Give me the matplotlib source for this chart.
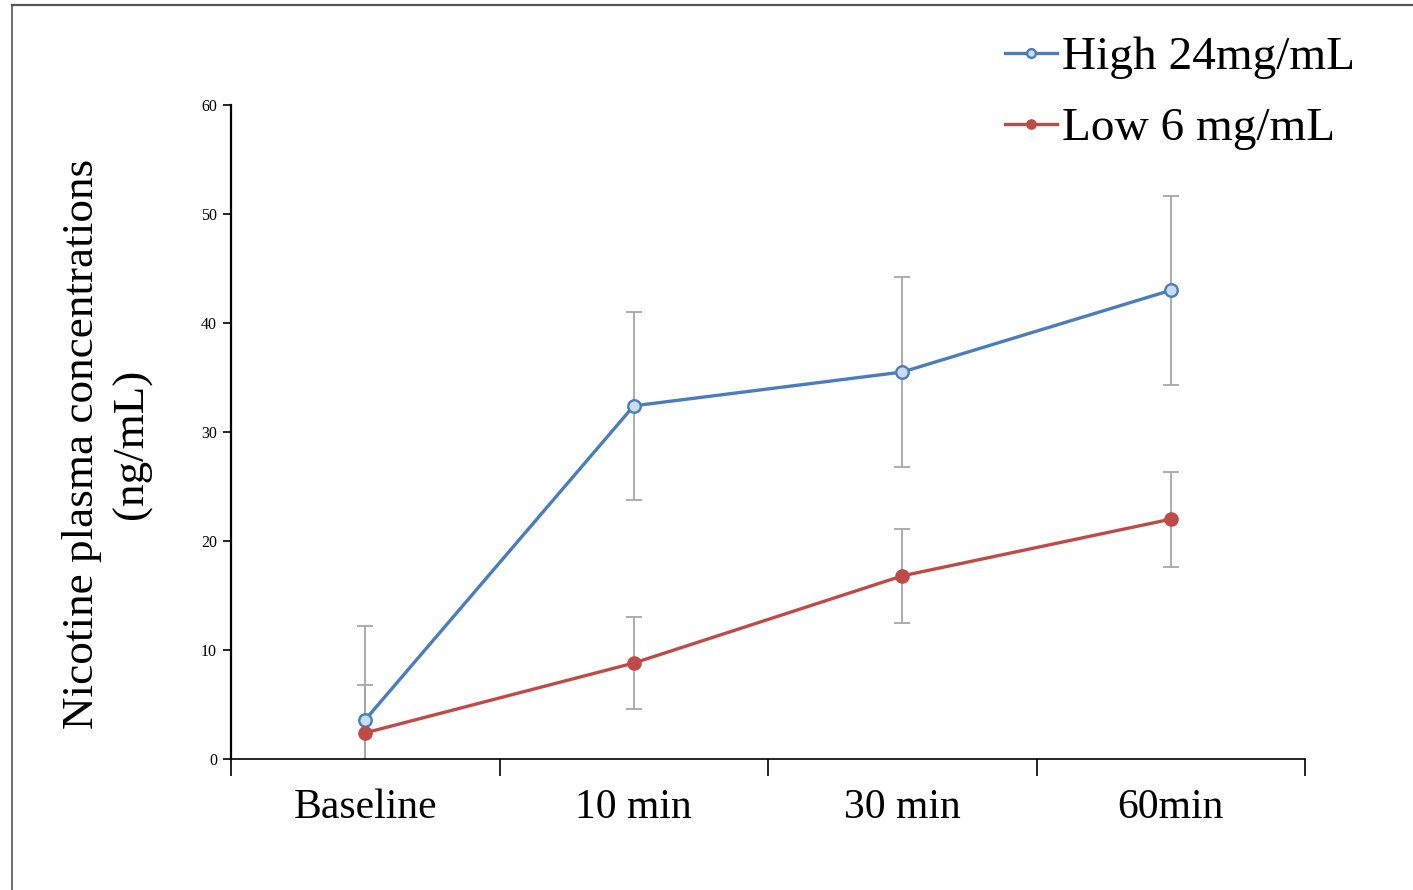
import matplotlib.pyplot as plt
from matplotlib.lines import Line2D

categories = ["Baseline", "10 min", "30 min", "60min"]
high_mean = [3.6, 32.4, 35.5, 43.0]
high_err = [8.6, 8.65, 8.7, 8.65]
low_mean = [2.4, 8.8, 16.8, 22.0]
low_err = [4.4, 4.25, 4.3, 4.35]

plt.rcParams["font.family"] = ["Liberation Serif", "DejaVu Serif"]

fig = plt.figure(figsize=(14.13, 8.9), dpi=100)
ax = fig.add_axes([231 / 1413, 1 - 759 / 890, (1305 - 231) / 1413, (759 - 105) / 890])

x = list(range(len(categories)))

# error bars behind the lines
ax.errorbar(x, high_mean, yerr=high_err, fmt="none", ecolor="#a6a6a6",
            elinewidth=1.3, capsize=5.5, capthick=1.3, zorder=1)
ax.errorbar(x, low_mean, yerr=low_err, fmt="none", ecolor="#a6a6a6",
            elinewidth=1.3, capsize=5.5, capthick=1.3, zorder=1)

ax.plot(x, high_mean, color="#4a7ebb", lw=2.4, marker="o", ms=9,
        mfc="#c9ddf0", mec="#4a7ebb", mew=1.7, label="High 24mg/mL", zorder=3)
ax.plot(x, low_mean, color="#be4b48", lw=2.4, marker="o", ms=9.5,
        mfc="#be4b48", mec="#be4b48", label="Low 6 mg/mL", zorder=3)

ax.set_xlim(-0.5, 3.5)
ax.set_ylim(0, 60)
ax.set_yticks(range(0, 61, 10))
ax.tick_params(axis="y", labelsize=11.5, length=6, width=1.2, pad=4)

# ticks between categories, labels centred under points
ax.set_xticks([-0.5, 0.5, 1.5, 2.5, 3.5])
ax.set_xticklabels([])
ax.set_xticks(x, minor=True)
ax.set_xticklabels(categories, minor=True)
ax.tick_params(axis="x", which="major", length=12, width=1.2, direction="out")
ax.tick_params(axis="x", which="minor", length=0, labelsize=30, pad=21)

for s in ["top", "right"]:
    ax.spines[s].set_visible(False)
ax.spines["left"].set_linewidth(1.6)
ax.spines["bottom"].set_linewidth(1.2)

ax.set_ylabel("Nicotine plasma concentrations\n(ng/mL)", fontsize=32.5,
              linespacing=1.3)
ax.yaxis.set_label_coords(-0.074, 0.482)

ax.legend(loc="upper left", bbox_to_anchor=(1005 / 1413, 1 - 36 / 890),
          bbox_transform=fig.transFigure, frameon=False, fontsize=34,
          handlelength=1.1, handletextpad=0.1, borderpad=0, borderaxespad=0,
          labelspacing=0.6, markerscale=0.7)

# outer frame of the original figure
fig.add_artist(Line2D([12 / 1413, 12 / 1413], [0, 1 - 5 / 890], color="#555555", lw=1.2))
fig.add_artist(Line2D([12 / 1413, 1], [1 - 5 / 890, 1 - 5 / 890], color="#555555", lw=1.6))

fig.savefig("out.png", dpi=100)
